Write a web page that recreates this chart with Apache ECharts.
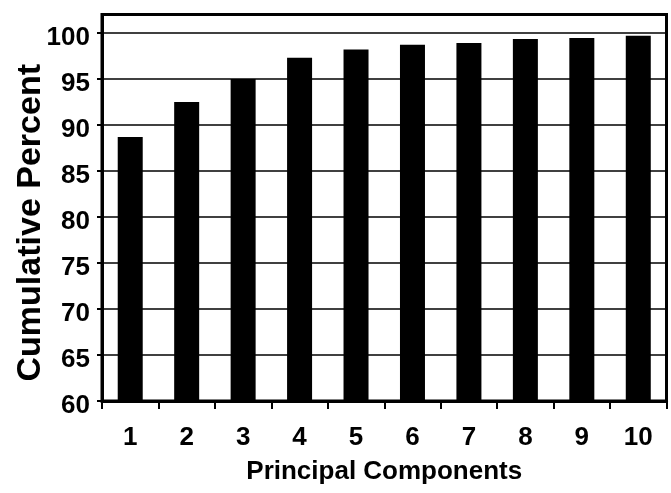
<!DOCTYPE html>
<html><head><meta charset="utf-8">
<script src="https://cdn.jsdelivr.net/npm/echarts@6/dist/echarts.min.js"></script>
<style>html,body{margin:0;padding:0;background:#fff}#c{width:671px;height:493px}</style>
</head><body><div id="c"></div>
<script>
const categories = ['1','2','3','4','5','6','7','8','9','10'];
const cumulativePercent = [88.7, 92.5, 95.0, 97.3, 98.2, 98.7, 98.9, 99.35, 99.45, 99.7];
const yMin = 60, yMax = 102, yInterval = 5;
const xTitle = 'Principal Components';
const yTitle = 'Cumulative Percent';
const FONT = "'Liberation Sans', Arial, sans-serif";
const chart = echarts.init(document.getElementById('c'), null, {renderer:'canvas'});
chart.setOption({
  animation:false,
  backgroundColor:'#fff',
  grid:{left:102, right:4.5, top:14.5, bottom:92, show:true, borderColor:'#000', borderWidth:3, backgroundColor:'transparent', containLabel:false, outerBoundsMode:'none'},
  xAxis:{type:'category', data:categories, name:xTitle, nameLocation:'middle', nameGap:58, nameMoveOverlap:false,
    nameTextStyle:{fontFamily:FONT, fontWeight:'bold', fontSize:26, color:'#000'},
    axisLine:{show:true, lineStyle:{color:'#000', width:3}},
    axisTick:{show:true, length:8, lineStyle:{color:'#000', width:2}},
    axisLabel:{margin:24, fontFamily:FONT, fontWeight:'bold', fontSize:26, color:'#000'},
    splitLine:{show:false}},
  yAxis:{type:'value', min:yMin, max:yMax, interval:yInterval, name:yTitle, nameLocation:'middle', nameRotate:90, nameGap:54, nameMoveOverlap:false,
    nameTextStyle:{fontFamily:FONT, fontWeight:'bold', fontSize:34, color:'#000', padding:[0,30,0,0]},
    axisLine:{show:true, lineStyle:{color:'#000', width:3}},
    axisTick:{show:true, length:5, lineStyle:{color:'#000', width:2}},
    axisLabel:{margin:12, showMaxLabel:false, fontFamily:FONT, fontWeight:'bold', fontSize:26, color:'#000', verticalAlign:'top', lineHeight:9},
    splitLine:{show:true, lineStyle:{color:'#000', width:1.5}}},
  series:[{type:'bar', data:cumulativePercent, barWidth:25, itemStyle:{color:'#000'}}]
});
</script></body></html>
